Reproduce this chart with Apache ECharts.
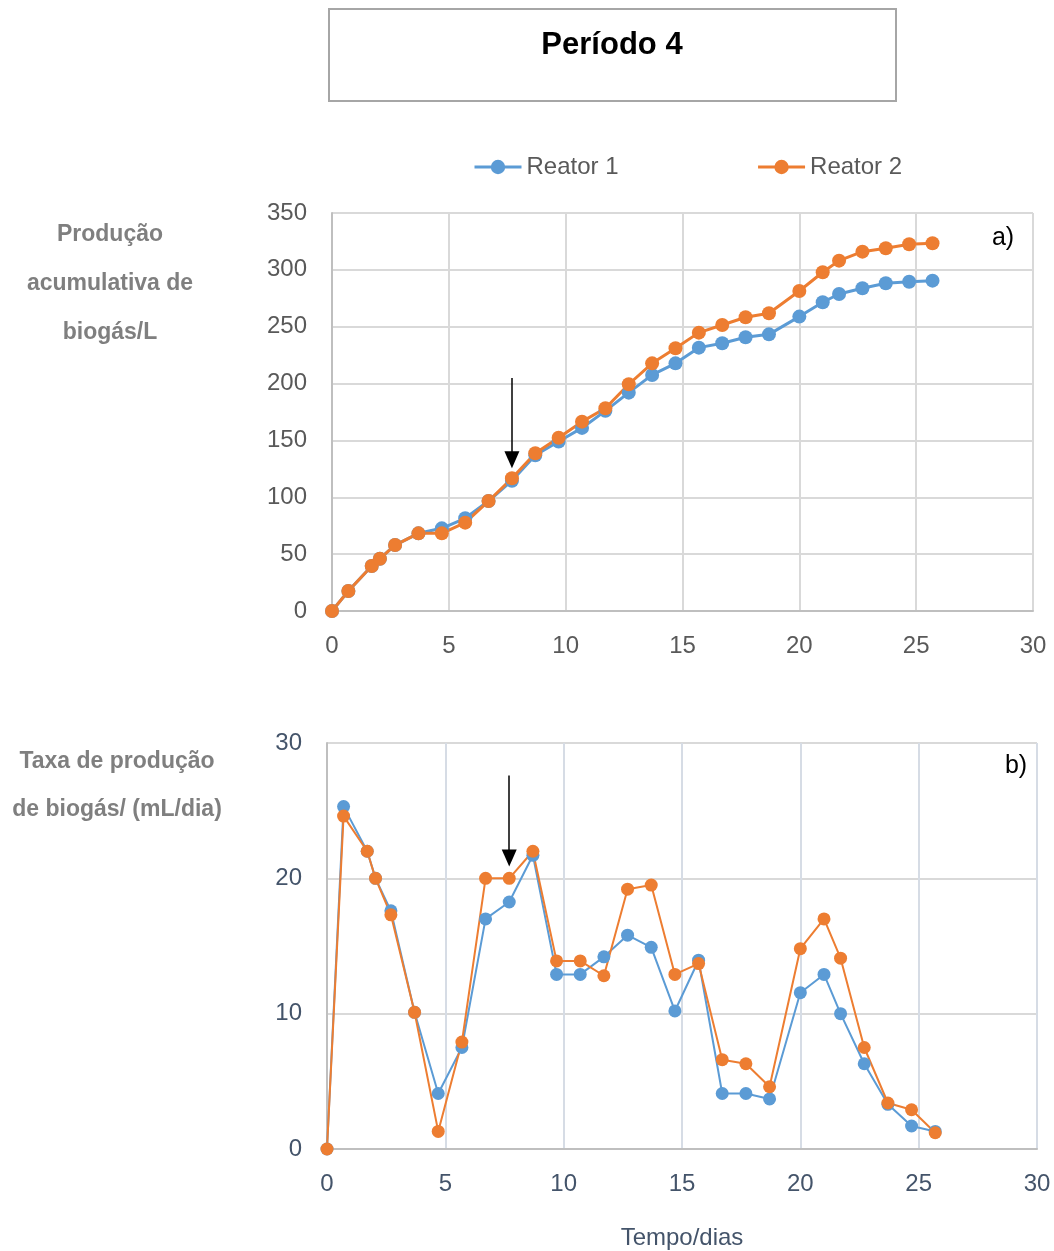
<!DOCTYPE html>
<html>
<head>
<meta charset="utf-8">
<script src="https://cdn.jsdelivr.net/npm/echarts@6/dist/echarts.min.js"></script>
<style>
  html, body { margin: 0; padding: 0; background: #fff; }
  #chart { width: 1054px; height: 1251px; }
</style>
</head>
<body>
<div id="chart"></div>
<script>
// Tempo de cada medição (dias)
const dias = [0, 0.7, 1.7, 2.05, 2.7, 3.7, 4.7, 5.7, 6.7, 7.7, 8.7, 9.7, 10.7, 11.7, 12.7, 13.7,
              14.7, 15.7, 16.7, 17.7, 18.7, 20, 21, 21.7, 22.7, 23.7, 24.7, 25.7];

// a) Produção acumulativa de biogás (L)
const acumReator1 = [0, 17.6, 39.6, 46, 58, 68.3, 72.7, 81.5, 96.7, 114.6, 137, 149, 161, 176, 192, 207.6,
                     217.8, 231.6, 235.4, 240.7, 243.3, 258.9, 271.5, 278.8, 283.8, 288.2, 289.6, 290.5];
const acumReator2 = [0, 17.6, 39.6, 46, 58, 68.3, 68.3, 77.7, 96.7, 116.7, 138.7, 152.4, 166.5, 178.3, 199.4, 217.8,
                     231, 244.8, 251.5, 258.3, 261.8, 281.4, 297.9, 308.1, 316, 319, 322.5, 323.4];

// b) Taxa de produção de biogás (mL/dia)
const taxaReator1 = [0, 25.3, 22.0, 20.0, 17.6, 10.1, 4.1, 7.5, 17.0, 18.25, 21.7, 12.9, 12.9, 14.2, 15.8, 14.9,
                     10.2, 13.95, 4.1, 4.1, 3.7, 11.55, 12.9, 10.0, 6.3, 3.3, 1.7, 1.3];
const taxaReator2 = [0, 24.6, 22.0, 20.0, 17.3, 10.1, 1.3, 7.9, 20.0, 20.0, 22.0, 13.9, 13.9, 12.8, 19.2, 19.5,
                     12.9, 13.7, 6.6, 6.3, 4.6, 14.8, 17.0, 14.1, 7.5, 3.4, 2.9, 1.2];

const nomes = ['Reator 1', 'Reator 2'];

// Setas que assinalam o dia 7,7 em cada gráfico (coordenadas nos eixos)
const setaA = { x: 7.7, de: 205, ate: 133 };
const setaB = { x: 7.7, de: 27.6, ate: 21.5 };

const AZUL = '#5b9bd5';
const LARANJA = '#ed7d31';
const FONTE = '"Liberation Sans", Arial, sans-serif';

const pares = (ys) => dias.map((d, i) => [d, ys[i]]);

function seta(s) {
  return {
    silent: true,
    symbol: ['none', 'triangle'],
    symbolSize: [15, 17],
    label: { show: false },
    lineStyle: { color: '#000', width: 1.5, type: 'solid' },
    emphasis: { disabled: true },
    data: [[{ coord: [s.x, s.de] }, { coord: [s.x, s.ate] }]]
  };
}

const chart = echarts.init(document.getElementById('chart'), null, { renderer: 'canvas' });

chart.setOption({
  backgroundColor: '#fff',
  animation: false,
  textStyle: { fontFamily: FONTE },
  graphic: [
    {
      type: 'rect',
      shape: { x: 329, y: 9, width: 567, height: 92 },
      style: { fill: '#fff', stroke: '#a6a6a6', lineWidth: 2 }
    },
    {
      type: 'text', x: 612, y: 45,
      style: { text: 'Período 4', fill: '#000', font: 'bold 31px ' + FONTE, align: 'center', verticalAlign: 'middle' }
    },
    {
      type: 'text', x: 110, y: 284,
      style: {
        text: 'Produção\nacumulativa de\nbiogás/L', fill: '#7f7f7f', font: 'bold 23px ' + FONTE,
        align: 'center', verticalAlign: 'middle', lineHeight: 49
      }
    },
    {
      type: 'text', x: 117, y: 786,
      style: {
        text: 'Taxa de produção\nde biogás/ (mL/dia)', fill: '#7f7f7f', font: 'bold 23px ' + FONTE,
        align: 'center', verticalAlign: 'middle', lineHeight: 48
      }
    },
    {
      type: 'text', x: 1003, y: 238,
      style: { text: 'a)', fill: '#000', font: '25px ' + FONTE, align: 'center', verticalAlign: 'middle' }
    },
    {
      type: 'text', x: 1016, y: 766,
      style: { text: 'b)', fill: '#000', font: '25px ' + FONTE, align: 'center', verticalAlign: 'middle' }
    }
  ],
  legend: {
    data: nomes,
    left: 468,
    top: 150,
    itemWidth: 47,
    itemHeight: 18,
    itemGap: 138,
    lineStyle: { width: 3 },
    textStyle: { fontSize: 24, color: '#595959', fontFamily: FONTE }
  },
  grid: [
    { left: 332, right: 21, top: 213, height: 398 },
    { left: 327, right: 17, top: 743, height: 407 }
  ],
  xAxis: [
    {
      gridIndex: 0, type: 'value', min: 0, max: 30, interval: 5,
      axisLine: { lineStyle: { color: '#bfbfbf', width: 2 } },
      axisTick: { show: false },
      axisLabel: { fontSize: 24, color: '#595959', margin: 23 },
      splitLine: { lineStyle: { color: '#d9d9d9', width: 2 } }
    },
    {
      gridIndex: 1, type: 'value', min: 0, max: 30, interval: 5,
      name: 'Tempo/dias', nameLocation: 'middle', nameGap: 77,
      nameTextStyle: { fontSize: 24, color: '#44546a' },
      axisLine: { lineStyle: { color: '#bfbfbf', width: 2 } },
      axisTick: { show: false },
      axisLabel: { fontSize: 24, color: '#44546a', margin: 23 },
      splitLine: { lineStyle: { color: '#d6dce5', width: 2 } }
    }
  ],
  yAxis: [
    {
      gridIndex: 0, type: 'value', min: 0, max: 350, interval: 50,
      axisLine: { show: true, lineStyle: { color: '#bfbfbf', width: 2 } },
      axisTick: { show: false },
      axisLabel: { fontSize: 24, color: '#595959', margin: 25 },
      splitLine: { lineStyle: { color: '#d9d9d9', width: 2 } }
    },
    {
      gridIndex: 1, type: 'value', min: 0, max: 30, interval: 10,
      axisLine: { show: true, lineStyle: { color: '#bfbfbf', width: 2 } },
      axisTick: { show: false },
      axisLabel: { fontSize: 24, color: '#44546a', margin: 25 },
      splitLine: { lineStyle: { color: '#d9d9d9', width: 2 } }
    }
  ],
  series: [
    {
      name: nomes[0], type: 'line', xAxisIndex: 0, yAxisIndex: 0,
      data: pares(acumReator1), symbol: 'circle', symbolSize: 14,
      lineStyle: { color: AZUL, width: 3 }, itemStyle: { color: AZUL }
    },
    {
      name: nomes[1], type: 'line', xAxisIndex: 0, yAxisIndex: 0,
      data: pares(acumReator2), symbol: 'circle', symbolSize: 14,
      lineStyle: { color: LARANJA, width: 3 }, itemStyle: { color: LARANJA },
      markLine: seta(setaA)
    },
    {
      name: nomes[0], type: 'line', xAxisIndex: 1, yAxisIndex: 1,
      data: pares(taxaReator1), symbol: 'circle', symbolSize: 13,
      lineStyle: { color: AZUL, width: 2 }, itemStyle: { color: AZUL }
    },
    {
      name: nomes[1], type: 'line', xAxisIndex: 1, yAxisIndex: 1,
      data: pares(taxaReator2), symbol: 'circle', symbolSize: 13,
      lineStyle: { color: LARANJA, width: 2 }, itemStyle: { color: LARANJA },
      markLine: seta(setaB)
    }
  ]
});
</script>
</body>
</html>
